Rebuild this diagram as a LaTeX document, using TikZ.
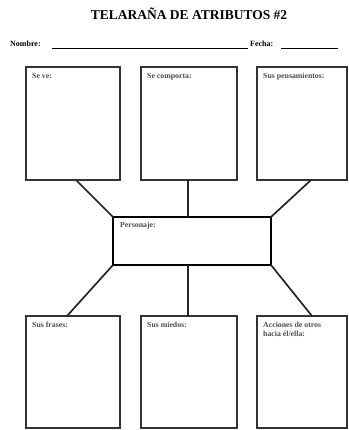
\documentclass[tikz,border=0pt]{standalone}
\usepackage{fontspec}
\setmainfont{Liberation Serif}
\begin{document}
\begin{tikzpicture}[x=1pt,y=-1pt,
  attrbox/.style={draw=black!80,line width=1.4pt},
  hubbox/.style={draw=black,line width=2.3pt},
  link/.style={draw=black!85,line width=1.7pt},
  boxlabel/.style={anchor=north west,font=\bfseries\fontsize{7.8}{9}\selectfont,text=black!70,inner sep=0pt,align=left},
  fieldlabel/.style={font=\bfseries\fontsize{8}{9}\selectfont,inner sep=0pt,anchor=base west}]
\useasboundingbox[fill=white] (0,0) rectangle (348,430);

% heading
\node[font=\bfseries\fontsize{13.5}{15}\selectfont,anchor=base] (title) at (189,20) {TELARAÑA DE ATRIBUTOS \#2};
\node[fieldlabel] (nombre) at (10,47) {Nombre:};
\coordinate (n1) at (52,48);
\coordinate (n2) at (248,48);
\draw[line width=0.7pt] (n1) -- (n2);
\node[fieldlabel] (fecha) at (250,47) {Fecha:};
\coordinate (f1) at (281,48);
\coordinate (f2) at (338,48);
\draw[line width=0.7pt] (f1) -- (f2);

% attribute boxes, upper row
\draw[attrbox] (26,67) rectangle (120,180);
\draw[attrbox] (141,67) rectangle (237,180);
\draw[attrbox] (257,67) rectangle (347,180);
\node[boxlabel] (seve) at (32,73) {Se ve:};
\node[boxlabel] (comporta) at (147,73) {Se comporta:};
\node[boxlabel] (pens) at (263,73) {Sus pensamientos:};

% central character box
\draw[hubbox] (113,217) rectangle (271,265);
\node[boxlabel] (pers) at (120,222) {Personaje:};

% attribute boxes, lower row
\draw[attrbox] (26,316) rectangle (120,428);
\draw[attrbox] (141,316) rectangle (237,428);
\draw[attrbox] (257,316) rectangle (347,428);
\node[boxlabel] (frases) at (32,322) {Sus frases:};
\node[boxlabel] (miedos) at (147,322) {Sus miedos:};
\node[boxlabel] (acciones) at (263,322) {Acciones de otros\\hacia él/ella:};

% spokes
\coordinate (t1) at (76,180);
\coordinate (t2) at (188,180);
\coordinate (t3) at (311,180);
\coordinate (h1) at (113,217);
\coordinate (h2) at (188,217);
\coordinate (h3) at (271,217);
\coordinate (h4) at (113,265);
\coordinate (h5) at (188,265);
\coordinate (h6) at (271,265);
\coordinate (b1) at (67,316);
\coordinate (b2) at (188,316);
\coordinate (b3) at (312,316);
\draw[link] (t1) -- (h1);
\draw[link] (t2) -- (h2);
\draw[link] (t3) -- (h3);
\draw[link] (h4) -- (b1);
\draw[link] (h5) -- (b2);
\draw[link] (h6) -- (b3);
\end{tikzpicture}
\end{document}
